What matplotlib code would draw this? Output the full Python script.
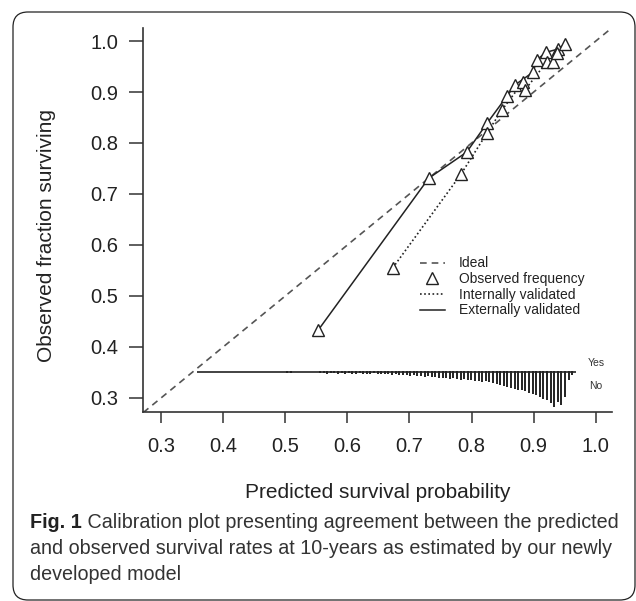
import numpy as np
import matplotlib
matplotlib.use("Agg")
import matplotlib.pyplot as plt
from matplotlib.patches import FancyBboxPatch

plt.rcParams['font.family'] = ['Liberation Sans', 'DejaVu Sans']

# Observed frequency points, externally validated model
ext_x = [0.553, 0.731, 0.792, 0.825, 0.857, 0.870, 0.899, 0.905, 0.920, 0.939, 0.950]
ext_y = [0.433, 0.731, 0.782, 0.839, 0.892, 0.914, 0.939, 0.963, 0.978, 0.984, 0.994]
# Observed frequency points, internally validated model
int_x = [0.673, 0.783, 0.825, 0.849, 0.883, 0.886, 0.921, 0.931, 0.937]
int_y = [0.555, 0.739, 0.820, 0.865, 0.920, 0.904, 0.959, 0.959, 0.976]

# spike histogram of predictions (counts per bin), "No" below and "Yes" above
spike_start = 0.556
spike_step = 0.0058
no_counts = [1, 1, 2, 1, 1, 2, 1, 2, 1, 2, 2, 1, 2, 2, 2, 1, 2, 2, 2, 2, 3, 2, 3,
             3, 3, 4, 3, 4, 4, 5, 4, 5, 5, 6,
             6, 6, 7, 6, 7, 8, 7,
             8, 8, 9, 9, 10, 9, 10,
             11, 12, 13, 14, 15, 16, 17,
             18, 18, 19, 21, 22, 23,
             25, 27, 28, 31, 35, 30, 33, 25, 8, 3]
yes_counts = [1] * len(no_counts)
extra_x = [0.503, 0.510]
extra_counts = [1, 1]

x_ticks = [0.3, 0.4, 0.5, 0.6, 0.7, 0.8, 0.9, 1.0]
y_ticks = [0.3, 0.4, 0.5, 0.6, 0.7, 0.8, 0.9, 1.0]

fig = plt.figure(figsize=(6.36, 6.01), dpi=100)
ax = fig.add_axes([143 / 636, 1 - 412 / 601, (612 - 143) / 636, (412 - 28) / 601])

dark = "#222222"

# ideal line
ax.plot([0, 1.1], [0, 1.1], color="#555555", lw=1.2, dashes=(4, 3), label="Ideal")
# observed frequency markers
ax.plot(ext_x + int_x, ext_y + int_y, linestyle="none", marker="^", ms=9,
        mfc="white", mec=dark, mew=1.0, label="Observed frequency", zorder=3)
ax.plot(int_x, int_y, color=dark, lw=1.2, linestyle=(0, (1, 1.5)),
        label="Internally validated")
ax.plot(ext_x, ext_y, color=dark, lw=1.1, label="Externally validated")

# spike histogram
base = 0.351
scale = 0.00196
spike_x = spike_start + spike_step * np.arange(len(no_counts))
ax.hlines(base, 0.358, 0.968, color=dark, lw=1.2)
ax.vlines(spike_x, base - np.array(no_counts) * scale, base, color=dark, lw=1.4)
ax.vlines(spike_x, base, base + np.array(yes_counts) * scale, color=dark, lw=1.4)
ax.vlines(extra_x, base - np.array(extra_counts) * scale,
          base + np.array(extra_counts) * scale, color=dark, lw=1.4)
ax.text(1.0, base + 0.018, "Yes", fontsize=7.5, color="#333333", ha="center", va="center")
ax.text(1.0, base - 0.028, "No", fontsize=7.5, color="#333333", ha="center", va="center")

ax.set_xlim(0.271, 1.026)
ax.set_ylim(0.2725, 1.0255)
ax.set_xticks(x_ticks)
ax.set_yticks(y_ticks)
ax.set_xticklabels([f"{v:.1f}" for v in x_ticks])
ax.set_yticklabels([f"{v:.1f}" for v in y_ticks])
for s in ["top", "right"]:
    ax.spines[s].set_visible(False)
for s in ["left", "bottom"]:
    ax.spines[s].set_linewidth(1.2)
    ax.spines[s].set_color("#333333")
ax.tick_params(axis="x", length=8, width=1.1, pad=10, labelsize=14.5, colors="#333333",
               labelcolor=dark)
ax.tick_params(axis="y", length=10, width=1.1, pad=8, labelsize=14.5, colors="#333333",
               labelcolor=dark)

leg = ax.legend(loc="upper left", bbox_to_anchor=(0.59, 0.405), frameon=False,
                fontsize=10, handlelength=1.8, handletextpad=1.0, labelspacing=0.12,
                borderpad=0, borderaxespad=0)
for t in leg.get_texts():
    t.set_color(dark)

fig.text(47 / 636, 1 - 235 / 601, "Observed fraction surviving", rotation=90,
         fontsize=15, color=dark, ha="center", va="center")
fig.text(378 / 636, 1 - 492 / 601, "Predicted survival probability",
         fontsize=15, color=dark, ha="center", va="center")

# caption
cap_lines = [("Fig. 1", " Calibration plot presenting agreement between the predicted"),
             ("", "and observed survival rates at 10-years as estimated by our newly"),
             ("", "developed model")]
cap_y = [523, 548, 574]
for (bold, rest), yy in zip(cap_lines, cap_y):
    x0 = 30 / 636
    if bold:
        tb = fig.text(x0, 1 - yy / 601, bold, fontsize=14.2, fontweight="bold",
                      color=dark, va="center")
        fig.canvas.draw()
        bb = tb.get_window_extent()
        x0 = bb.x1 / 636
    fig.text(x0, 1 - yy / 601, rest, fontsize=14.2, color="#333333", va="center")

# rounded frame
frame = FancyBboxPatch((0.13, 0.01), 6.22, 5.88, boxstyle="round,pad=0,rounding_size=0.15",
                       transform=fig.dpi_scale_trans, fill=False, ec="#222222", lw=0.9)
fig.patches.append(frame)

fig.savefig("out.png", dpi=100)
